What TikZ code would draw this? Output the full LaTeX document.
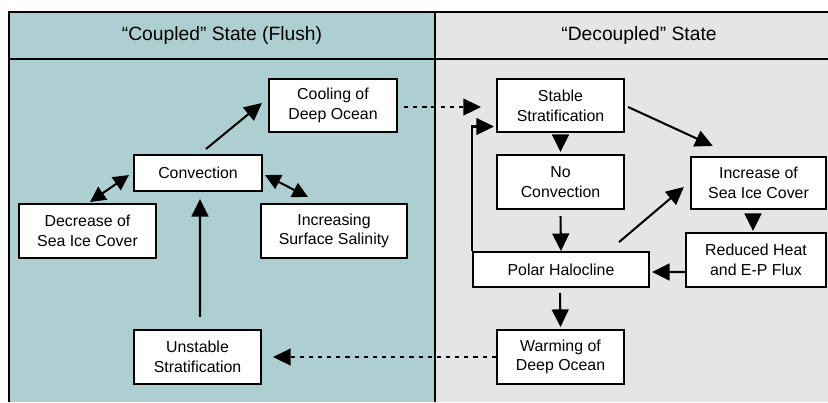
\documentclass[tikz,border=0pt]{standalone}
\usepackage{fontspec}
\setmainfont{Liberation Sans}
\usetikzlibrary{arrows.meta}
\usetikzlibrary{positioning}
\usetikzlibrary{calc}

\definecolor{coupled}{HTML}{AECFD2}
\definecolor{decoupled}{HTML}{E5E5E5}

\begin{document}
\begin{tikzpicture}[x=0.025cm, y=-0.025cm, line width=1.45pt,
    box/.style={draw, fill=white, align=center, inner sep=1pt, font=\fontsize{11.3}{14}\selectfont},
    arr/.style={-{Triangle[length=12.5pt, width=12pt]}},
    both/.style={{Triangle[length=11pt, width=11pt]}-{Triangle[length=11pt, width=11pt]}},
    dots/.style={dash pattern=on 3pt off 3.5pt}]
        \useasboundingbox (0,0) rectangle (828,402);

        % Panels
        \fill[coupled] (9,12) rectangle (435,402);
        \fill[decoupled] (435,12) rectangle (850,402);
        \draw (9,402) -- (9,12) -- (850,12);
        \draw (9,59) -- (850,59);
        \draw (435,12) -- (435,402);
        \node[font=\fontsize{13.7}{16}\selectfont] (hL) at (222,36) {``Coupled'' State (Flush)};
        \node[font=\fontsize{13.7}{16}\selectfont] (hR) at (639,36) {``Decoupled'' State};

        % Coupled side
        \node[box, minimum width=3.2cm, minimum height=1.32cm] (Cool) at (333,105.5) {Cooling of\\Deep Ocean};
        \node[box, minimum width=3.2cm, minimum height=0.9cm] (Conv) at (198,173) {Convection};
        \node[box, minimum width=3.42cm, minimum height=1.35cm] (Dec) at (87.5,231) {Decrease of\\Sea Ice Cover};
        \node[box, minimum width=3.65cm, minimum height=1.35cm] (Incr) at (334,231) {Increasing\\Surface Salinity};
        \node[box, minimum width=3.18cm, minimum height=1.35cm] (Unst) at (197.5,357) {Unstable\\Stratification};

        % Decoupled side
        \node[box, minimum width=3.18cm, minimum height=1.32cm] (Stab) at (560.5,105.5) {Stable\\Stratification};
        \node[box, minimum width=3.18cm, minimum height=1.35cm] (NoC) at (560.5,182) {No\\Convection};
        \node[box, minimum width=3.38cm, minimum height=1.3cm] (IncS) at (758.5,183) {Increase of\\Sea Ice Cover};
        \node[box, minimum width=3.5cm, minimum height=1.35cm] (Red) at (756,260) {Reduced Heat\\and E-P Flux};
        \node[box, minimum width=4.4cm, minimum height=0.87cm] (Polar) at (561,269.5) {Polar Halocline};
        \node[box, minimum width=3.18cm, minimum height=1.35cm] (Warm) at (560.5,357) {Warming of\\Deep Ocean};

        % Arrows, coupled side
        \draw[arr] ($(Conv.north)+(8,-5)$) -- ($(Cool.west)+(-6,-2.5)$);
        \draw[both] ($(Dec.north)+(2.5,-1)$) -- ($(Conv.west)+(-4,2)$);
        \draw[both] ($(Conv.east)+(2,2)$) -- ($(Incr.north)+(-26,-6)$);
        \draw[arr] ($(Unst.north)+(2.5,-12)$) -- ($(Conv.south)+(2,7)$);

        % Arrows between the states
        \draw[arr, dots] ($(Cool.east)+(6,1.5)$) -- ($(Stab.west)+(-15,1.5)$);
        \draw[arr, dots] (Warm.west) -- ($(Unst.east)+(11,0)$);

        % Arrows, decoupled side
        \draw[arr] ($(Stab.south)+(0,5)$) -- ($(NoC.north)+(0,-2)$);
        \draw[arr] ($(Stab.east)+(3,1.5)$) -- ($(IncS.north west)+(23,-10)$);
        \draw[arr] ($(NoC.south)+(0,6)$) -- (Polar.north);
        \draw[arr] ($(Polar.north east)+(-31,-9)$) -- ($(IncS.west)+(-6,4)$);
        \draw[arr] ($(IncS.south)+(-5.5,6)$) -- ($(Red.north)+(-3,-1)$);
        \draw[arr] ($(Red.west)+(0,12)$) -- ($(Polar.east)+(2,2.5)$);
        \draw[arr] ($(Polar.south)+(-1,5)$) -- ($(Warm.north)+(0,-2)$);
        \draw[arr] (Polar.north west) |- ($(Stab.west)+(-2,21)$);
      \end{tikzpicture}
\end{document}
